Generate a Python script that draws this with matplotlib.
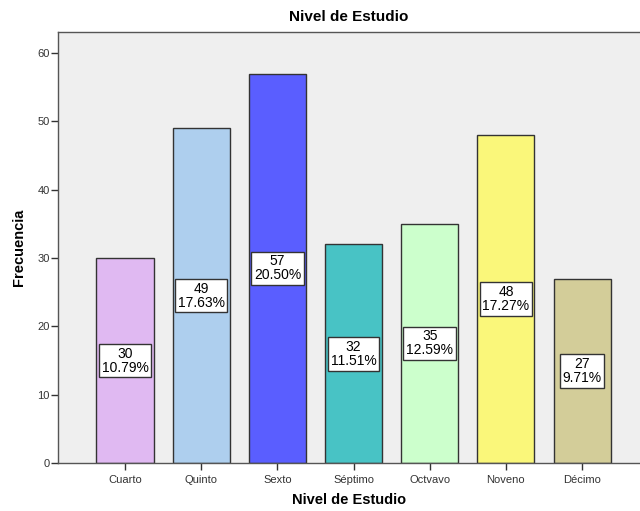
import matplotlib
matplotlib.use("Agg")
import matplotlib.pyplot as plt

plt.rcParams['font.family'] = ['Liberation Sans', 'DejaVu Sans']

niveles = ["Cuarto", "Quinto", "Sexto", "Séptimo", "Octvavo", "Noveno", "Décimo"]
frecuencia = [30, 49, 57, 32, 35, 48, 27]
porcentaje = ["10.79%", "17.63%", "20.50%", "11.51%", "12.59%", "17.27%", "9.71%"]
colores = ["#E0B9F2", "#AECFEE", "#5A5EFF", "#48C3C5", "#CCFFCC", "#FAF77A", "#D3CD99"]

fig = plt.figure(figsize=(6.4, 5.11), dpi=100)
ax = fig.add_axes([0.0906, 0.0939, 0.9094, 0.8435])
ax.set_facecolor("#EFEFEF")

x = list(range(len(niveles)))
ax.bar(x, frecuencia, width=0.75, color=colores, edgecolor="#333333", linewidth=1.0, zorder=2)

for xi, f, p in zip(x, frecuencia, porcentaje):
    ax.text(xi, f / 2, f"{f}\n{p}", ha="center", va="center", fontsize=10,
            linespacing=1.0, zorder=3,
            bbox=dict(boxstyle="square,pad=0.2", facecolor="white", edgecolor="#333333", linewidth=1.0))

ax.set_xlim(-0.88, 6.76)
ax.set_ylim(0, 63.1)
ax.set_yticks([0, 10, 20, 30, 40, 50, 60])
ax.set_xticks(x)
ax.set_xticklabels(niveles)
ax.tick_params(axis="both", labelsize=8, colors="#333333", length=5, width=1)
ax.tick_params(axis="y", pad=1)

for s in ["left", "bottom", "top"]:
    ax.spines[s].set_color("#555555")
    ax.spines[s].set_linewidth(1.0)
ax.spines["right"].set_visible(False)

ax.set_title("Nivel de Estudio", fontsize=11, fontweight="bold", pad=8)
ax.set_xlabel("Nivel de Estudio", fontsize=10.5, fontweight="bold", labelpad=6)
ax.set_ylabel("Frecuencia", fontsize=10.5, fontweight="bold", labelpad=8)

fig.savefig("out.png", dpi=100)
